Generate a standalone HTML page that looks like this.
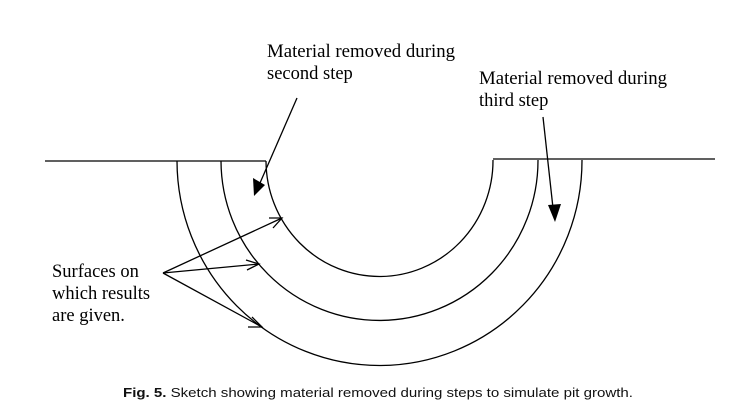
<!DOCTYPE html>
<html><head><meta charset="utf-8"><style>
html,body{margin:0;padding:0;background:#fff;}
svg{display:block;}
</style></head><body>
<svg width="753" height="417" viewBox="0 0 753 417" xmlns="http://www.w3.org/2000/svg">
<g fill="none" stroke="#000" stroke-width="1.3">
<line x1="45" y1="161" x2="266" y2="161"/>
<line x1="493" y1="159" x2="715" y2="159"/>
<path d="M266 161 A113.5 116 0 0 0 493 160"/>
<path d="M221 161 A158.5 160 0 0 0 538 160"/>
<path d="M177 161 A202.5 205 0 0 0 582 160"/>
<line x1="297" y1="98" x2="260" y2="183"/>
<line x1="543" y1="117" x2="553" y2="208"/>
<line x1="163" y1="273" x2="282" y2="218"/>
<line x1="163" y1="273" x2="259" y2="264"/>
<line x1="163" y1="273" x2="262" y2="327"/>
<polyline points="269,218 282,218 273,228"/>
<polyline points="246,260 259,264 247,270"/>
<polyline points="252,317 262,327 248,327"/>
</g>
<polygon points="254,196 253,178 265,185" fill="#000"/>
<polygon points="555,222 548,205 561,204" fill="#000"/>
<g font-family="Liberation Serif, serif" font-size="18.5" fill="#000">
<text x="267" y="57" textLength="188" lengthAdjust="spacingAndGlyphs">Material removed during</text>
<text x="267" y="79">second step</text>
<text x="479" y="84" textLength="188" lengthAdjust="spacingAndGlyphs">Material removed during</text>
<text x="479" y="106">third step</text>
<text x="52" y="277">Surfaces on</text>
<text x="52" y="299">which results</text>
<text x="52" y="321">are given.</text>
</g>
<text x="123" y="397" font-family="Liberation Sans, sans-serif" font-size="13" fill="#111" textLength="510" lengthAdjust="spacingAndGlyphs"><tspan font-weight="bold">Fig. 5.</tspan> Sketch showing material removed during steps to simulate pit growth.</text>
</svg>
</body></html>
